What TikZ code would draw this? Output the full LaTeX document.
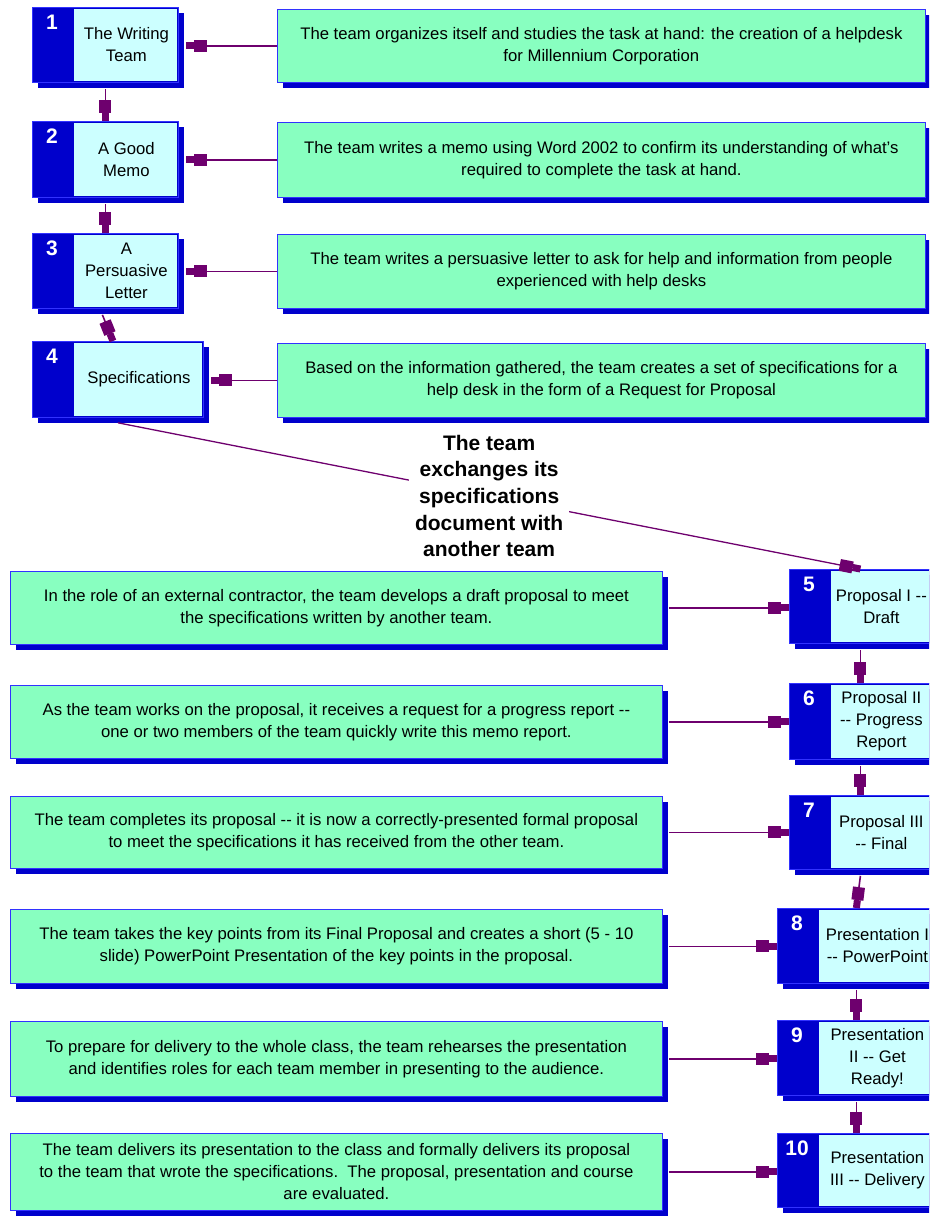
\documentclass[tikz,border=0pt]{standalone}
\usepackage{fontspec}
\setmainfont{Liberation Sans}
\usetikzlibrary{arrows.meta,calc,shadows}
\definecolor{boxblue}{RGB}{0,0,204}
\definecolor{edgeblue}{RGB}{50,50,255}
\definecolor{cyanfill}{RGB}{204,255,255}
\definecolor{greenfill}{RGB}{136,255,192}
\definecolor{arrowpurple}{RGB}{110,0,110}
\tikzset{
  shad/.style={drop shadow={shadow xshift=6pt,shadow yshift=-6pt,opacity=1,fill=boxblue}},
  stepouter/.style={rectangle, fill=boxblue, draw=edgeblue, line width=0.8pt, inner sep=0pt, anchor=north west, shad},
  greenbox/.style={rectangle, fill=greenfill, draw=edgeblue, line width=0.8pt, inner sep=0pt, anchor=north west, shad, align=center, font=\fontsize{16.7}{22}\selectfont},
  steptext/.style={align=center, font=\fontsize{16.7}{22}\selectfont, inner sep=0pt},
  numlabel/.style={text=white, font=\fontsize{21}{24}\selectfont\bfseries, inner sep=0pt},
  link/.style={draw=arrowpurple, line width=1.6pt, -{Rectangle[length=13pt,width=12pt]Rectangle[length=8pt,width=7pt]}},
  exchlabel/.style={fill=white, align=center, font=\fontsize{21}{26.7}\selectfont\bfseries, inner xsep=6pt, inner ysep=1pt, text=black},
}
\newcommand\mkstep[7]{%
  \node[stepouter, minimum width=#4pt, minimum height=#5pt] (#1) at (#2,#3) {};
  \fill[cyanfill] ($(#1.north west)+(42,2)$) rectangle ($(#1.south east)+(-2,-2)$);
  \node[numlabel] (#1-num) at ($(#1.north west)+(20,15)$) {#6};
  \node[steptext] (#1-txt) at ($(#1.center)+(21,0)$) {#7};
}
\begin{document}
\begin{tikzpicture}[x=1pt,y=-1pt]
\useasboundingbox (0,0) rectangle (929,1218);
\clip (0,0) rectangle (929,1218);

% left step boxes
\mkstep{s1}{32}{7}{146}{75}{1}{The Writing\\Team}
\mkstep{s2}{32}{121}{146}{76}{2}{A Good\\Memo}
\mkstep{s3}{32}{233}{146}{75}{3}{A\\Persuasive\\Letter}
\mkstep{s4}{32}{341}{171}{76}{4}{Specifications}

% right step boxes
\mkstep{s5}{789}{569}{142}{74}{5}{Proposal I -{}-\\Draft}
\mkstep{s6}{789}{683}{142}{76}{6}{Proposal II\\-{}- Progress\\Report}
\mkstep{s7}{789}{795}{142}{74}{7}{Proposal III\\-{}- Final}
\mkstep{s8}{777}{908}{158}{75}{8}{Presentation I\\-{}- PowerPoint}
\mkstep{s9}{777}{1020}{158}{75}{9}{Presentation\\II -{}- Get\\Ready!}
\mkstep{s10}{777}{1133}{158}{74}{10}{Presentation\\III -{}- Delivery}

% top green boxes
\node[greenbox, minimum width=648pt, minimum height=73pt] (g1) at (277,9)
  {The team organizes itself and studies the task at hand: the creation of a helpdesk\\for Millennium Corporation};
\node[greenbox, minimum width=648pt, minimum height=75pt] (g2) at (277,122)
  {The team writes a memo using Word 2002 to confirm its understanding of what's\\required to complete the task at hand.};
\node[greenbox, minimum width=648pt, minimum height=74pt] (g3) at (277,234)
  {The team writes a persuasive letter to ask for help and information from people\\experienced with help desks};
\node[greenbox, minimum width=648pt, minimum height=74pt] (g4) at (277,343)
  {Based on the information gathered, the team creates a set of specifications for a\\help desk in the form of a Request for Proposal};

% bottom green boxes
\node[greenbox, minimum width=652pt, minimum height=73pt] (gA) at (10,571)
  {In the role of an external contractor, the team develops a draft proposal to meet\\the specifications written by another team.};
\node[greenbox, minimum width=652pt, minimum height=73pt] (gB) at (10,685)
  {As the team works on the proposal, it receives a request for a progress report -{}-\\one or two members of the team quickly write this memo report.};
\node[greenbox, minimum width=652pt, minimum height=72pt] (gC) at (10,796)
  {The team completes its proposal -{}- it is now a correctly-presented formal proposal\\to meet the specifications it has received from the other team.};
\node[greenbox, minimum width=652pt, minimum height=74pt] (gD) at (10,909)
  {The team takes the key points from its Final Proposal and creates a short (5 - 10\\slide) PowerPoint Presentation of the key points in the proposal.};
\node[greenbox, minimum width=652pt, minimum height=75pt] (gE) at (10,1021)
  {To prepare for delivery to the whole class, the team rehearses the presentation\\and identifies roles for each team member in presenting to the audience.};
\node[greenbox, minimum width=652pt, minimum height=77pt] (gF) at (10,1133)
  {The team delivers its presentation to the class and formally delivers its proposal\\to the team that wrote the specifications.\ \ The proposal, presentation and course\\are evaluated.};

% arrows: top green -> step
\draw[link] (g1.west) -- ([xshift=7pt]g1.west -| s1.east);
\draw[link] (g2.west) -- ([xshift=7pt]g2.west -| s2.east);
\draw[link] (g3.west) -- ([xshift=7pt]g3.west -| s3.east);
\draw[link] (g4.west) -- ([xshift=7pt]g4.west -| s4.east);

% arrows: bottom green -> step
\draw[link] ([xshift=6pt]gA.east) -- (gA.east -| s5.west);
\draw[link] ([xshift=6pt]gB.east) -- (gB.east -| s6.west);
\draw[link] ([xshift=6pt]gC.east) -- (gC.east -| s7.west);
\draw[link] ([xshift=6pt]gD.east) -- (gD.east -| s8.west);
\draw[link] ([xshift=6pt]gE.east) -- (gE.east -| s9.west);
\draw[link] ([xshift=6pt]gF.east) -- (gF.east -| s10.west);

% vertical chain
\draw[link] ([yshift=-6pt]s1.south) -- (s2.north);
\draw[link] ([yshift=-6pt]s2.south) -- (s3.north);
\draw[link] ([yshift=-6pt,xshift=-3pt]s3.south) -- ([xshift=-5pt]s4.north);
\draw[link] ([yshift=-6pt]s5.south) -- (s6.north);
\draw[link] ([yshift=-6pt]s6.south) -- (s7.north);
\draw[link] ([yshift=-6pt]s7.south) -- (s8.north);
\draw[link] ([yshift=-6pt]s8.south) -- (s9.north);
\draw[link] ([yshift=-6pt]s9.south) -- (s10.north);

% exchange
\draw[link, line width=1.3pt] ([yshift=-5pt]s4.south) -- node[exchlabel, pos=0.5] (exch) {The team\\exchanges its\\specifications\\document with\\another team} (s5.north);
\end{tikzpicture}
\end{document}
